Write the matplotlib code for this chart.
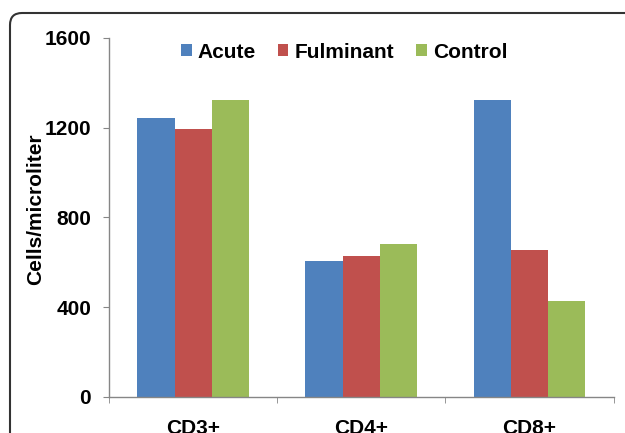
import numpy as np
import matplotlib
matplotlib.use("Agg")
from matplotlib import pyplot as plt
from matplotlib import patches as mpatches

# values
categories = ["CD3+", "CD4+", "CD8+"]
acute = [1241, 606, 1323]
fulminant = [1194, 627, 655]
control = [1323, 680, 426]
series_names = ["Acute", "Fulminant", "Control"]
y_ticks = [0, 400, 800, 1200, 1600]

colors = ["#4F81BD", "#C0504D", "#9BBB59"]
plt.rcParams['font.family'] = ['Liberation Sans', 'DejaVu Sans']
plt.rcParams['font.weight'] = 'bold'
fs = 15

fig = plt.figure(figsize=(6.25, 4.33), dpi=100)
ax = fig.add_axes([109.3 / 625, 1 - 397 / 433, (613.5 - 109.3) / 625, (397 - 37.7) / 433])

x = np.arange(len(categories))
width = 0.222
for i, (vals, name) in enumerate(zip([acute, fulminant, control], series_names)):
    ax.bar(x + (i - 1) * width, vals, width, color=colors[i], label=name, zorder=2)

ax.set_xlim(-0.5, len(categories) - 0.5)
ax.set_ylim(0, 1600)
ax.set_yticks(y_ticks)
ax.set_yticklabels([str(v) for v in y_ticks], fontsize=fs, fontweight='bold')
ax.set_xticks(x)
ax.set_xticklabels(categories, fontsize=fs, fontweight='bold')
ax.set_xticks(np.arange(-0.5, len(categories)), minor=True)
ax.tick_params(axis='x', which='major', length=0, pad=16)
ax.tick_params(axis='x', which='minor', length=4, color='#868686', direction='out')
ax.tick_params(axis='y', length=4, color='#868686', direction='out', pad=9)

for side in ['top', 'right']:
    ax.spines[side].set_visible(False)
for side in ['left', 'bottom']:
    ax.spines[side].set_color('#868686')
    ax.spines[side].set_linewidth(1.0)

ax.set_ylabel("Cells/microliter", fontsize=fs, fontweight='bold')
ax.yaxis.set_label_coords(-0.128, (397 - 209) / 359.3)

ax.legend(loc='center', bbox_to_anchor=(0.466, 0.96), ncol=3, frameon=False,
          handlelength=0.5, handleheight=0.5, handletextpad=0.3,
          columnspacing=1.05, prop={'weight': 'bold', 'size': fs})

# rounded frame around the chart, cut off at right and bottom
frame = mpatches.FancyBboxPatch((10, -30), 660, 420 + 30, boxstyle="round,pad=0,rounding_size=12",
                                transform=None, fill=False, edgecolor='#333333', linewidth=1.5)
fig.patches.append(frame)

fig.savefig("out.png", dpi=100)
